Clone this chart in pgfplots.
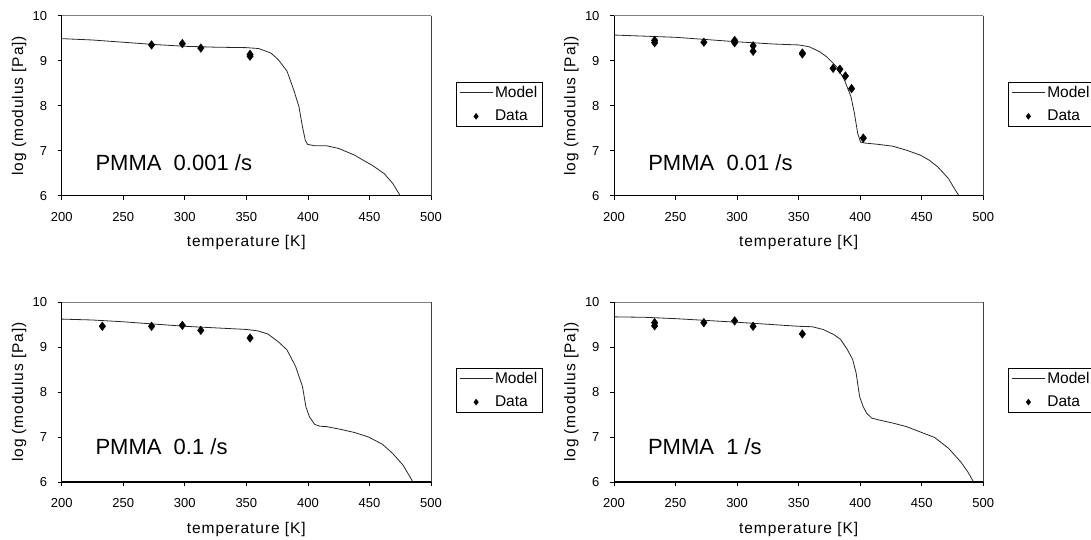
\documentclass[border=0pt]{standalone}
\usepackage{fontspec}
\setmainfont{Liberation Sans}
\newfontfamily\labfont[LetterSpace=6]{Liberation Sans}
\usepackage{pgfplots}
\pgfplotsset{compat=1.18}

\newcommand\ticksize{\fontsize{13}{15}\selectfont}
\newcommand\legsize{\fontsize{15.5}{18}\selectfont}
\newcommand\axlab{\labfont\fontsize{15.5}{18}\selectfont}
\newcommand\pmma{\fontsize{22}{25}\selectfont}

\pgfplotsset{
  pan/.style={
    width=369.3pt, height=180pt, scale only axis,
    xmin=200, xmax=500, ymin=6, ymax=10,
    xtick={200,250,...,500}, ytick={6,7,...,10},
    xtick pos=bottom, ytick pos=left,
    tick align=outside, major tick length=4pt,
    tick style={black, line width=0.7pt},
    axis line style={draw=none},
    /pgf/number format/assume math mode=true,
    tick label style={font=\ticksize},
    xticklabel style={yshift=-9pt},
    yticklabel style={xshift=-7pt},
    xlabel={temperature [K]}, ylabel={log (modulus [Pa])},
    label style={font=\axlab},
    xlabel style={at={(axis description cs:0.5,-0.262)}, anchor=center},
    ylabel style={at={(axis description cs:-0.1156,0.5)}, anchor=center},
    legend image code/.code={\draw[mark repeat=2,mark phase=2,##1] plot coordinates {(0pt,0pt) (16.5pt,0pt) (33pt,0pt)};},
    legend style={draw=black, thin, fill=white, font=\legsize,
      inner xsep=3pt, inner ysep=2pt, row sep=7.4pt,
      nodes={inner sep=2pt, text depth=0.15em}},
    legend cell align=left,
    after end axis/.code={
      \draw[black!50, line width=0.7pt] (rel axis cs:0,1) -- (rel axis cs:1,1);
      \draw[black!75, line width=0.7pt] (rel axis cs:1,1) -- (rel axis cs:1,0);
      \draw[black, line width=0.8pt] (rel axis cs:0,1) -- (rel axis cs:0,0);
      \draw[black, line width=1.2pt] (rel axis cs:0,0) -- (rel axis cs:1,0);
    },
  },
  modelline/.style={black!85, line width=0.8pt, no marks},
  datamk/.style={only marks, mark=diamond*, mark size=4.3pt, black, forget plot},
  legmk/.style={only marks, mark=diamond*, mark size=3pt, black},
}

\begin{document}
\begin{tikzpicture}
\path[use as bounding box] (0,0) rectangle (1091pt,540pt);

% 0.001 /s
\begin{axis}[pan, at={(61.7pt,344.3pt)}, anchor=south west,
  legend style={at={(axis description cs:1.0677,0.632)}, anchor=north west}]
\addplot[modelline] coordinates {(200,9.49)(225,9.46)(250,9.41)(275,9.36)(300,9.32)(325,9.30)(350,9.29)(360,9.27)(370,9.17)(376,9.02)(383,8.77)(388.5,8.35)(392.8,7.97)(395.6,7.53)(397.9,7.23)(399.8,7.14)(405.5,7.11)(415,7.11)(425,7.05)(438,6.90)(446,6.77)(452,6.68)(462,6.49)(469,6.27)(475,6.0)};
\addlegendentry{Model}
\addplot[datamk] coordinates {(273,9.35)(298,9.38)(313,9.28)(353,9.10)(353,9.14)};
\addlegendimage{legmk}
\addlegendentry{Data}
\node[font=\pmma, anchor=base west] at (axis cs:224.6,6.57) {PMMA~~0.001 /s};
\end{axis}

% 0.01 /s
\begin{axis}[pan, at={(614pt,344.3pt)}, anchor=south west,
  legend style={at={(axis description cs:1.0677,0.632)}, anchor=north west}]
\addplot[modelline] coordinates {(200,9.57)(250,9.52)(300,9.42)(330,9.37)(350,9.35)(358.5,9.31)(367,9.20)(372.6,9.09)(381,8.86)(387.2,8.57)(392.5,8.20)(395.3,7.83)(398,7.38)(400.3,7.19)(403.8,7.17)(415,7.14)(426.4,7.10)(437.7,7.01)(449,6.90)(456,6.79)(463,6.64)(471.7,6.38)(477.4,6.12)(480.2,6.0)};
\addlegendentry{Model}
\addplot[datamk] coordinates {(233,9.40)(233,9.45)(273,9.41)(298,9.45)(298,9.40)(313,9.33)(313,9.21)(353,9.15)(353,9.17)(378,8.83)(383.5,8.81)(388,8.66)(393,8.38)(402.5,7.28)};
\addlegendimage{legmk}
\addlegendentry{Data}
\node[font=\pmma, anchor=base west] at (axis cs:225,6.57) {PMMA~~0.01 /s};
\end{axis}

% 0.1 /s
\begin{axis}[pan, at={(61.7pt,58pt)}, anchor=south west,
  legend style={at={(axis description cs:1.0677,0.635)}, anchor=north west}]
\addplot[modelline] coordinates {(200,9.62)(225,9.60)(250,9.56)(300,9.46)(350,9.39)(359,9.36)(367.4,9.29)(375.8,9.12)(382.9,8.94)(390,8.57)(395.6,8.12)(398.4,7.67)(401.2,7.45)(405.5,7.28)(409.7,7.24)(415.3,7.23)(426.6,7.17)(437.9,7.10)(449.2,7.00)(460.5,6.84)(469,6.63)(477.4,6.37)(484.5,6.04)(485.3,6.0)};
\addlegendentry{Model}
\addplot[datamk] coordinates {(233,9.46)(273,9.46)(298,9.48)(313,9.37)(353,9.20)};
\addlegendimage{legmk}
\addlegendentry{Data}
\node[font=\pmma, anchor=base west] at (axis cs:224.6,6.62) {PMMA~~0.1 /s};
\end{axis}

% 1 /s
\begin{axis}[pan, at={(614pt,58pt)}, anchor=south west,
  legend style={at={(axis description cs:1.0677,0.635)}, anchor=north west}]
\addplot[modelline] coordinates {(200,9.67)(225,9.66)(250,9.63)(300,9.55)(350,9.46)(361,9.45)(369.8,9.39)(378.3,9.28)(384,9.17)(389.6,8.94)(393.9,8.72)(396.7,8.42)(399.5,7.90)(402.3,7.68)(405.2,7.53)(409.4,7.42)(415,7.38)(426.4,7.31)(437.7,7.23)(449,7.11)(460.4,6.99)(471.7,6.75)(481.6,6.45)(487.3,6.23)(492.1,6.0)};
\addlegendentry{Model}
\addplot[datamk] coordinates {(233,9.54)(233,9.47)(273,9.54)(298,9.58)(313,9.46)(353,9.29)};
\addlegendimage{legmk}
\addlegendentry{Data}
\node[font=\pmma, anchor=base west] at (axis cs:224.8,6.62) {PMMA~~1 /s};
\end{axis}
\end{tikzpicture}
\end{document}
